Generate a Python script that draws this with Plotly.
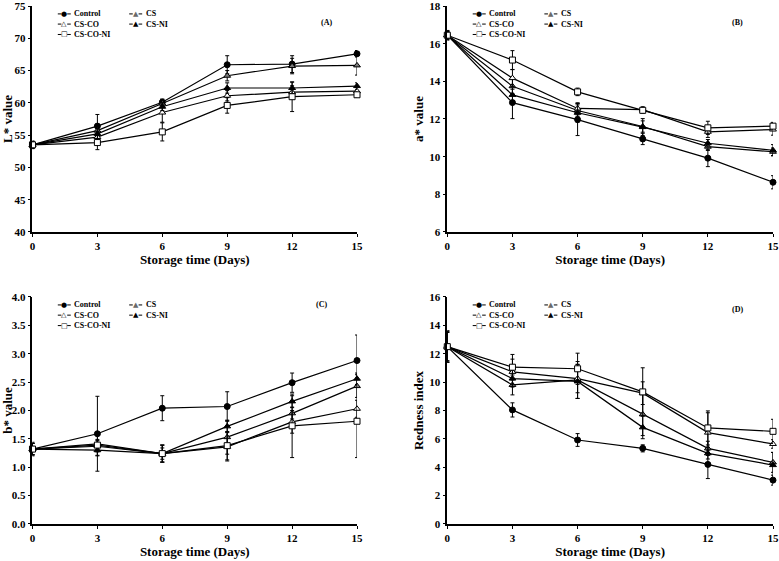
import plotly.graph_objects as go

days = [0, 3, 6, 9, 12, 15]
series_names = ["Control", "CS", "CS-CO", "CS-NI", "CS-CO-NI"]

# values per series, same order as series_names
l_star = [
    [53.5, 56.4, 60.1, 65.9, 66.0, 67.6],
    [53.5, 55.7, 59.9, 64.2, 65.7, 65.8],
    [53.5, 54.7, 58.5, 61.1, 61.65, 61.8],
    [53.5, 55.2, 59.4, 62.3, 62.3, 62.6],
    [53.5, 53.85, 55.5, 59.6, 60.95, 61.25],
]
l_star_err = [
    [0.6, 1.8, 0.5, 1.4, 1.3, 0.5],
    [0.5, 0.8, 0.6, 0.8, 1.2, 1.5],
    [0.5, 0.9, 1.5, 0.8, 1.0, 0.6],
    [0.5, 0.8, 0.6, 0.8, 0.9, 0.5],
    [0.5, 1.1, 1.4, 1.2, 2.3, 0.4],
]

a_star = [
    [16.45, 12.87, 11.97, 10.94, 9.92, 8.64],
    [16.45, 13.74, 12.45, 11.6, 10.53, 10.26],
    [16.45, 14.17, 12.56, 12.5, 11.32, 11.44],
    [16.45, 13.28, 12.33, 11.57, 10.71, 10.34],
    [16.45, 15.13, 13.44, 12.46, 11.53, 11.62],
]
a_star_err = [
    [0.25, 0.85, 0.85, 0.3, 0.45, 0.35],
    [0.2, 0.4, 0.3, 0.3, 0.2, 0.2],
    [0.2, 0.45, 0.3, 0.15, 0.3, 0.3],
    [0.2, 0.3, 0.5, 0.45, 0.2, 0.3],
    [0.25, 0.5, 0.2, 0.15, 0.35, 0.2],
]

b_star = [
    [1.32, 1.59, 2.04, 2.07, 2.49, 2.88],
    [1.32, 1.41, 1.24, 1.53, 1.95, 2.43],
    [1.32, 1.37, 1.24, 1.36, 1.80, 2.03],
    [1.32, 1.30, 1.24, 1.72, 2.16, 2.56],
    [1.32, 1.39, 1.24, 1.38, 1.73, 1.81],
]
b_star_err = [
    [0.12, 0.66, 0.22, 0.26, 0.17, 0.45],
    [0.1, 0.2, 0.15, 0.3, 0.1, 0.2],
    [0.1, 0.1, 0.15, 0.25, 0.2, 0.15],
    [0.1, 0.1, 0.1, 0.1, 0.1, 0.1],
    [0.1, 0.1, 0.15, 0.25, 0.56, 0.64],
]

redness = [
    [12.5, 8.04, 5.92, 5.33, 4.2, 3.09],
    [12.5, 9.8, 10.15, 7.73, 5.33, 4.34],
    [12.5, 10.72, 10.25, 9.22, 6.44, 5.64],
    [12.5, 10.25, 10.05, 6.81, 4.98, 4.15],
    [12.5, 11.05, 10.94, 9.31, 6.77, 6.53],
]
redness_err = [
    [1.1, 0.5, 0.45, 0.25, 1.0, 0.35],
    [1.1, 0.7, 1.3, 1.5, 0.5, 0.7],
    [1.0, 0.9, 1.0, 0.8, 1.4, 0.3],
    [1.0, 0.6, 1.2, 0.8, 0.4, 0.9],
    [1.1, 0.9, 1.1, 1.7, 1.2, 0.85],
]

panels = [
    dict(vals=l_star, errs=l_star_err, ytitle="L* value", yrange=[40, 75], dtick=5, fmt="d",
         standoff=3, tag="(A)", tagpos=(0.93, 0.955), xdom=[0.0417, 0.4583], ydom=[0.5865, 0.9893]),
    dict(vals=a_star, errs=a_star_err, ytitle="a* value", yrange=[6, 18], dtick=2, fmt="d",
         standoff=3, tag="(B)", tagpos=(0.915, 0.955), xdom=[0.5742, 0.9923], ydom=[0.5865, 0.9893]),
    dict(vals=b_star, errs=b_star_err, ytitle="b* value", yrange=[0, 4], dtick=0.5, fmt=".1f",
         standoff=0, tag="(C)", tagpos=(0.915, 0.995), xdom=[0.0417, 0.4583], ydom=[0.066, 0.4706]),
    dict(vals=redness, errs=redness_err, ytitle="Redness index", yrange=[0, 16], dtick=2, fmt="d",
         standoff=3, tag="(D)", tagpos=(0.915, 0.975), xdom=[0.5742, 0.9923], ydom=[0.066, 0.4706]),
]

markers = [
    dict(symbol="circle", color="black", size=6, line=dict(color="black", width=1)),
    dict(symbol="triangle-up", color="#7a7a7a", size=6, line=dict(color="black", width=1)),
    dict(symbol="triangle-up", color="white", size=6, line=dict(color="black", width=1)),
    dict(symbol="triangle-up", color="black", size=6, line=dict(color="black", width=1)),
    dict(symbol="square", color="white", size=6, line=dict(color="black", width=1)),
]
glyphs = ["●", "▲", "△", "▲", "□"]
glyph_colors = ["black", "#6a6a6a", "black", "black", "black"]

# legend layout inside each panel: (column, row)
leg_slots = [(0, 0), (1, 0), (0, 1), (1, 1), (0, 2)]
leg_cols = [0.078, 0.298]
leg_rows = [0.965, 0.92, 0.874]
seg = 0.04

serif = "Liberation Serif"
fig = go.Figure()
layout = dict(
    width=779, height=561,
    margin=dict(l=0, r=0, t=0, b=0),
    plot_bgcolor="white", paper_bgcolor="white",
    showlegend=False,
    font=dict(family=serif, color="black"),
)
shapes = []
annotations = []

for p_i, p in enumerate(panels):
    n = "" if p_i == 0 else str(p_i + 1)
    xa, ya = "x" + n, "y" + n
    for s_i, name in enumerate(series_names):
        fig.add_trace(go.Scatter(
            x=days, y=p["vals"][s_i], name=name,
            xaxis=xa, yaxis=ya,
            mode="lines+markers",
            line=dict(color="black", width=1.2),
            marker=markers[s_i],
            error_y=dict(type="data", array=p["errs"][s_i], color="black",
                         thickness=1, width=2),
            cliponaxis=False,
        ))
    layout["xaxis" + n] = dict(
        domain=p["xdom"], anchor=ya, range=[0, 15], tickvals=days,
        showline=True, linecolor="black", linewidth=1.5,
        ticks="outside", ticklen=3, tickcolor="black",
        showgrid=False, zeroline=False, automargin=False,
        ticklabeloverflow="allow",
        tickfont=dict(family=serif, size=11, weight="bold"),
        title=dict(text="Storage time (Days)", standoff=4,
                   font=dict(family=serif, size=13, weight="bold")),
    )
    layout["yaxis" + n] = dict(
        domain=p["ydom"], anchor=xa, range=p["yrange"], dtick=p["dtick"],
        tickformat=p["fmt"],
        showline=True, linecolor="black", linewidth=1.5,
        ticks="outside", ticklen=3, tickcolor="black",
        showgrid=False, zeroline=False, automargin=False,
        ticklabeloverflow="allow",
        tickfont=dict(family=serif, size=11, weight="bold"),
        title=dict(text=p["ytitle"], standoff=p["standoff"],
                   font=dict(family=serif, size=13, weight="bold")),
    )
    xref, yref = xa + " domain", ya + " domain"
    annotations.append(dict(
        text=p["tag"], x=p["tagpos"][0], y=p["tagpos"][1], xref=xref, yref=yref,
        showarrow=False, font=dict(family=serif, size=8, weight="bold"),
    ))
    # hand drawn legend
    for s_i, name in enumerate(series_names):
        c, r = leg_slots[s_i]
        x0 = leg_cols[c]
        yy = leg_rows[r]
        xm = x0 + seg / 2
        for a, b in [(x0, xm - 0.009), (xm + 0.009, x0 + seg)]:
            shapes.append(dict(type="line", xref=xref, yref=yref, x0=a, x1=b, y0=yy, y1=yy,
                               line=dict(color="black", width=1)))
        annotations.append(dict(
            text=glyphs[s_i], x=xm, y=yy, xref=xref, yref=yref, showarrow=False,
            font=dict(family="DejaVu Sans", size=7, color=glyph_colors[s_i]),
            xanchor="center", yanchor="middle",
        ))
        annotations.append(dict(
            text=name, x=x0 + seg + 0.005, y=yy, xref=xref, yref=yref, showarrow=False,
            font=dict(family=serif, size=8, weight="bold"),
            xanchor="left", yanchor="middle",
        ))

layout["shapes"] = shapes
layout["annotations"] = annotations
fig.update_layout(**layout)

# the page body has a default margin; drop it so the figure fills the window
fig.write_html(
    "out.html",
    config={"displayModeBar": False},
    post_script="document.body.style.margin='0px';document.body.style.overflow='hidden';",
)
